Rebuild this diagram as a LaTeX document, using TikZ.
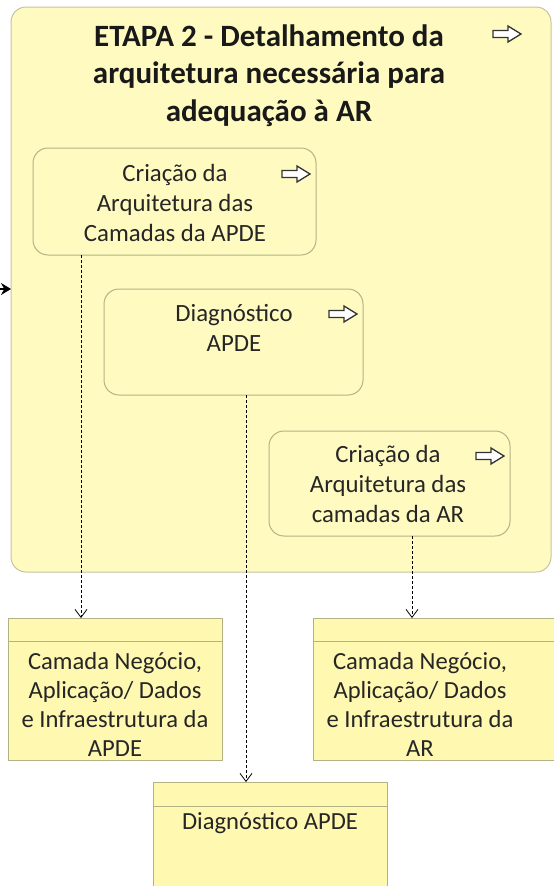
\documentclass[tikz,border=0pt]{standalone}
\usepackage{fontspec}
\setmainfont{Carlito}
\usetikzlibrary{arrows.meta,calc}
\definecolor{yfill}{HTML}{FFFBC0}
\definecolor{ybox}{HTML}{FFF8B0}
\definecolor{edgec}{HTML}{B2B285}
\definecolor{outedge}{HTML}{C4C4A0}
\begin{document}
\begin{tikzpicture}[x=1pt,y=-1pt,
  outerbox/.style={draw=outedge,line width=1pt,fill=yfill,rounded corners=15pt,minimum width=540pt,minimum height=565pt,inner sep=0pt,outer sep=0pt},
  actbox/.style={draw=edgec,line width=1pt,fill=yfill,rounded corners=15pt,inner sep=0pt,outer sep=0pt},
  artbox/.style={draw=edgec,line width=1pt,fill=ybox,inner sep=0pt,outer sep=0pt},
  lbl/.style={align=center,inner sep=0pt,font=\fontsize{24.8}{30}\selectfont,text=black!85},
  artlbl/.style={align=center,inner sep=0pt,font=\fontsize{24.6}{29}\selectfont,text=black!85},
  ttl/.style={align=center,inner sep=0pt,font=\fontsize{31}{37.5}\selectfont\bfseries,text=black!90},
  conn/.style={densely dashed,line width=0.8pt,-{Straight Barb[length=8pt,width=12pt]}},
  rarrow/.pic={\draw[line width=1.3pt,black!80,fill=white,line join=miter] (-14,-3.5) -- (1,-3.5) -- (1,-8) -- (14,0) -- (1,8) -- (1,3.5) -- (-14,3.5) -- cycle;}
]
\useasboundingbox (0,0) rectangle (554,886);
\fill[white] (0,0) rectangle (554,886);
% outer activity
\node[outerbox] (etapa) at (281,289.5) {};
\node[ttl] (ttltext) at (269,75.5) {ETAPA 2 - Detalhamento da\\arquitetura necessária para\\adequação à AR};
\pic at (507,34) {rarrow};
% inner activities
\node[actbox,minimum width=283pt,minimum height=107pt] (box1) at (174.5,201.5) {};
\node[lbl] (t1) at (175,203) {Criação da\\Arquitetura das\\Camadas da APDE};
\pic at (296,174) {rarrow};
\node[actbox,minimum width=259pt,minimum height=106pt] (box2) at (233.5,342) {};
\node[lbl] (t2) at (234,328) {Diagnóstico\\APDE};
\pic at (343,314) {rarrow};
\node[actbox,minimum width=241pt,minimum height=105pt] (box3) at (389.5,483.5) {};
\node[lbl] (t3) at (388,484) {Criação da\\Arquitetura das\\camadas da AR};
\pic at (490,456) {rarrow};
% artifacts
\node[artbox,minimum width=214pt,minimum height=142pt] (boxL) at (115,689) {};
\draw[edgec,line width=1pt] ($(boxL.north west)+(0,23)$) -- ($(boxL.north east)+(0,23)$);
\node[artlbl] (tL) at (115,704) {Camada Negócio,\\Aplicação/ Dados\\e Infraestrutura da\\APDE};
\node[artbox,minimum width=250pt,minimum height=142pt] (boxR) at (438,689) {};
\draw[edgec,line width=1pt] ($(boxR.north west)+(0,23)$) -- ($(boxR.north east)+(0,23)$);
\node[artlbl] (tR) at (420,704) {Camada Negócio,\\Aplicação/ Dados\\e Infraestrutura da\\AR};
\node[artbox,minimum width=234pt,minimum height=130pt] (boxD) at (270,847) {};
\draw[edgec,line width=1pt] ($(boxD.north west)+(0,24)$) -- ($(boxD.north east)+(0,24)$);
\node[artlbl] (tD) at (270,823) {Diagnóstico APDE};
% connectors
\draw[conn] ($(box1.south west)+(48,0)$) -- ($(boxL.north west)+(73,0)$);
\draw[conn] ($(box2.south west)+(142,0)$) -- ($(boxD.north west)+(93,0)$);
\draw[conn] ($(box3.south west)+(143,0)$) -- ($(boxR.north west)+(99,0)$);
\coordinate (inL) at (0,289);
\draw[line width=1.5pt,-{Stealth[length=10pt,width=12pt]}] (inL) -- (inL -| etapa.west);
\end{tikzpicture}
\end{document}
